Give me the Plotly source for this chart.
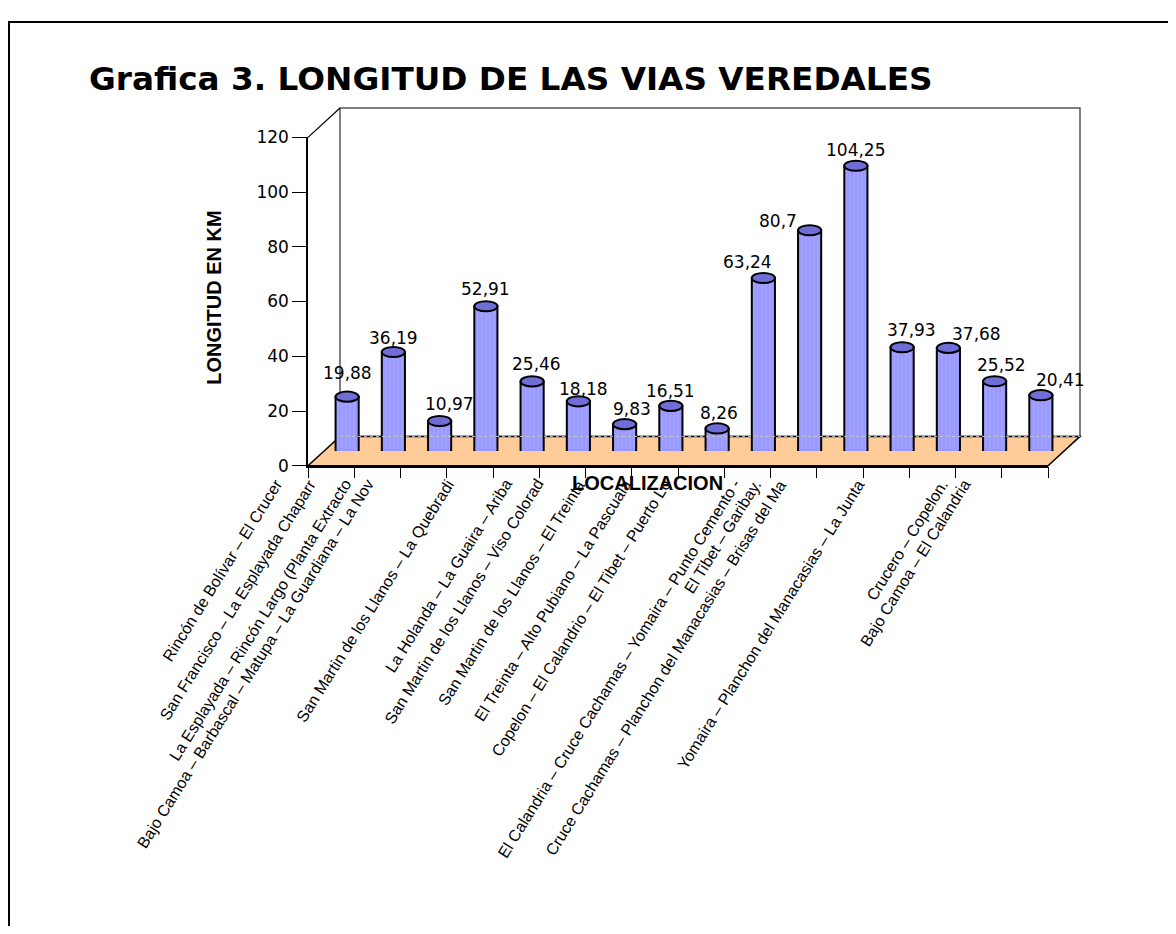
import plotly.graph_objects as go

# ---------------- data ----------------
categories = [
    "Rincón de Bolívar – El Crucer",
    "San Francisco – La Esplayada Chaparr",
    "La Esplayada – Rincón Largo (Planta Extracto",
    "Bajo Camoa – Barbascal – Matupa – La Guardiana – La Nov",
    "San Martin de los Llanos – La Quebradi",
    "La Holanda – La Guaira – Ariba",
    "San Martin de los Llanos – Viso Colorad",
    "San Martin de los Llanos – El Treinta",
    "El Treinta – Alto Pubiano – La Pascuala",
    "Copelon – El Calandrio – El Tibet – Puerto Lo",
    "El Calandria – Cruce Cachamas – Yomaira – Punto Cemento -",
    "El Tibet – Garibay.",
    "Cruce Cachamas – Planchon del Manacasias – Brisas del Ma",
    "Yomaira – Planchon del Manacasias – La Junta",
    "Crucero – Copelon.",
    "Bajo Camoa – El Calandria",
]
lengths_km = [19.88, 36.19, 10.97, 52.91, 25.46, 18.18, 9.83, 16.51,
              8.26, 63.24, 80.7, 104.25, 37.93, 37.68, 25.52, 20.41]
y_ticks = [0, 20, 40, 60, 80, 100, 120]

title_text = "Grafica 3. LONGITUD DE LAS VIAS VEREDALES"
y_title = "LONGITUD EN KM"
x_title = "LOCALIZACION"

# ---------------- layout constants (styling) ----------------
PAGE_MARGIN = 8                     # default body margin of the page
W, H = 1176 - 2 * PAGE_MARGIN, 934 - 2 * PAGE_MARGIN
FRONT_L, FRONT_R = 308, 1048        # front floor edge (page pixels)
Y0_PX, YTOP_PX = 465.7, 130         # y=0 and y=120 on the front axis
DX, DY = 32, 30                      # 3-D depth offset (pixels)
# horizontal nudges of the rotated category labels (pixels)
label_nudge = [-43, -55, -67, -90, -56, -44, -59, -64, -64, -70,
               -47, -73, -94, -62, -24, -48]
# nudges of the value labels (pixels) to mimic the spreadsheet placement
value_dx = [0, 0, 10, 0, 4, 5, 7, 0, 2, -16, -32, 0, 9, 28, 7, 20]
value_dy = [24, 14, 17, 17, 17, 12, 15, 15, 15, 16, 9, 16, 17, 14, 16, 15]


def fx(x):
    return (x - PAGE_MARGIN) / W


def fy(y):
    return 1 - (y - PAGE_MARGIN) / H


n = len(categories)
idx = list(range(n))
y_max = y_ticks[-1]
px_per_unit = (Y0_PX - YTOP_PX) / y_max

fig = go.Figure()

# invisible trace to keep the front axes alive
fig.add_trace(go.Scatter(x=[None], y=[None], xaxis="x", yaxis="y",
                         showlegend=False, hoverinfo="skip"))

# the bars (drawn half-way into the depth)
fig.add_trace(go.Bar(
    x=idx, y=lengths_km, width=0.5, xaxis="x2", yaxis="y2",
    hovertext=categories, hoverinfo="text+y",
    marker=dict(color="#9999ff", line=dict(color="black", width=2),
                pattern=dict(shape="|", fgcolor="#b8b8ff", size=4,
                             solidity=0.25, fillmode="overlay")),
    showlegend=False,
))

shapes = []
# back wall
shapes.append(dict(type="rect", xref="paper", yref="paper", layer="below",
                   x0=fx(FRONT_L + DX), x1=fx(FRONT_R + DX),
                   y0=fy(Y0_PX - DY), y1=fy(YTOP_PX - DY),
                   fillcolor="white", line=dict(color="#555555", width=1.5)))
# left wall top edge
shapes.append(dict(type="line", xref="paper", yref="paper", layer="below",
                   x0=fx(FRONT_L), y0=fy(YTOP_PX), x1=fx(FRONT_L + DX), y1=fy(YTOP_PX - DY),
                   line=dict(color="black", width=1.2)))
# floor
floor_path = "M {a},{b} L {c},{b} L {d},{e} L {f},{e} Z".format(
    a=fx(FRONT_L), b=fy(Y0_PX), c=fx(FRONT_R), d=fx(FRONT_R + DX),
    e=fy(Y0_PX - DY), f=fx(FRONT_L + DX))
shapes.append(dict(type="path", xref="paper", yref="paper", layer="below",
                   path=floor_path, fillcolor="#ffcc99",
                   line=dict(color="black", width=1.5)))

# cylinder decorations derived from the data
half = 0.25
e = 5.2 / px_per_unit
k = 4.0 / 3.0 * e
d = 0.025
for i, v in zip(idx, lengths_km):
    l, r = i - half, i + half
    shapes.append(dict(type="path", xref="x2", yref="y2", layer="above",
                       path=f"M {l+d},{0.8} L {l+d},0 C {l+d},{-k} {r-d},{-k} {r-d},0 L {r-d},{0.8} Z",
                       fillcolor="#9999ff", line=dict(width=0)))
    shapes.append(dict(type="path", xref="x2", yref="y2", layer="above",
                       path=f"M {l},0 C {l},{-k} {r},{-k} {r},0",
                       fillcolor="rgba(0,0,0,0)", line=dict(color="black", width=2)))
    shapes.append(dict(type="circle", xref="x2", yref="y2", layer="above",
                       x0=l, x1=r, y0=v - e, y1=v + e,
                       fillcolor="#6e6ed6", line=dict(color="black", width=2)))

# faint back floor edge seen through the bars
shapes.append(dict(type="line", xref="paper", yref="paper", layer="above",
                   x0=fx(FRONT_L + DX), x1=fx(FRONT_R + DX),
                   y0=fy(Y0_PX - DY), y1=fy(Y0_PX - DY),
                   line=dict(color="#c8c8c8", width=1, dash="dot")))
# page border (left and top edges visible)
shapes.append(dict(type="rect", xref="paper", yref="paper", layer="above",
                   x0=fx(9), x1=fx(1200), y0=fy(960), y1=fy(12),
                   line=dict(color="black", width=2), fillcolor="rgba(0,0,0,0)"))

annotations = []
# value labels
for i, v, ddx, ddy in zip(idx, lengths_km, value_dx, value_dy):
    txt = ("%g" % v).replace(".", ",")
    annotations.append(dict(x=i, y=v, xref="x2", yref="y2", text=txt,
                            showarrow=False, yanchor="middle", xshift=ddx, yshift=ddy,
                            font=dict(family="DejaVu Sans", size=17, color="black")))
# category labels
for i, (name, nudge) in enumerate(zip(categories, label_nudge)):
    annotations.append(dict(x=i, y=0, xref="x", yref="y", text=name,
                            showarrow=False, xanchor="right", yanchor="top",
                            xshift=nudge, yshift=-8, textangle=-58,
                            font=dict(family="Liberation Sans, Arial", size=16, color="black")))
# title
annotations.append(dict(x=fx(87), y=fy(70), xref="paper", yref="paper",
                        text="<b>" + title_text + "</b>", showarrow=False,
                        xanchor="left", yanchor="middle",
                        font=dict(family="DejaVu Sans", size=32.7, color="black")))
# axis titles
annotations.append(dict(x=fx(214), y=fy(294), xref="paper", yref="paper",
                        text="<b>" + y_title + "</b>", showarrow=False, textangle=-90,
                        xanchor="center", yanchor="middle",
                        font=dict(family="Liberation Sans, Arial", size=20, color="black")))
annotations.append(dict(x=fx(647), y=fy(483), xref="paper", yref="paper",
                        text="<b>" + x_title + "</b>", showarrow=False,
                        xanchor="center", yanchor="middle",
                        font=dict(family="Liberation Sans, Arial", size=20, color="black")))

fig.update_layout(
    width=W, height=H,
    margin=dict(l=0, r=0, t=0, b=0),
    paper_bgcolor="white", plot_bgcolor="rgba(0,0,0,0)",
    showlegend=False,
    xaxis=dict(domain=[fx(FRONT_L), fx(FRONT_R)], range=[-0.5, n - 0.5],
               tickvals=[i - 0.5 for i in range(n + 1)], showticklabels=False,
               ticks="outside", ticklen=11, tickcolor="black", tickwidth=1,
               showline=True, linecolor="black", linewidth=1.5,
               showgrid=False, zeroline=False, anchor="y", fixedrange=True),
    yaxis=dict(domain=[fy(Y0_PX), fy(YTOP_PX)], range=[0, y_max],
               tickvals=y_ticks, ticks="outside", ticklen=14, tickcolor="black",
               tickfont=dict(family="DejaVu Sans", size=17, color="black"),
               showline=True, linecolor="black", linewidth=1.5,
               showgrid=False, zeroline=False, anchor="x", fixedrange=True),
    xaxis2=dict(domain=[fx(FRONT_L + DX / 2), fx(FRONT_R + DX / 2)], range=[-0.5, n - 0.5],
                visible=False, anchor="y2", fixedrange=True),
    yaxis2=dict(domain=[fy(Y0_PX - DY / 2), fy(YTOP_PX - DY / 2)], range=[0, y_max],
                visible=False, anchor="x2", fixedrange=True),
    shapes=shapes,
    annotations=annotations,
)

fig.write_html("out.html", config={"displayModeBar": False})
